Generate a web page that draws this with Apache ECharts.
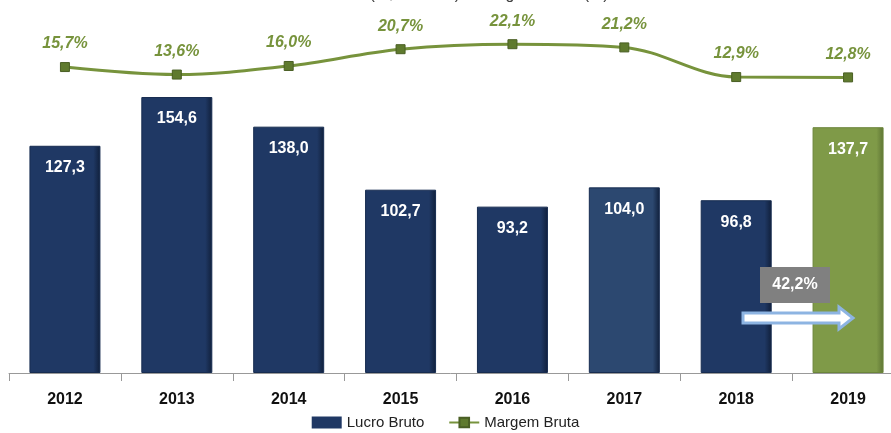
<!DOCTYPE html>
<html>
<head>
<meta charset="utf-8">
<script src="https://cdn.jsdelivr.net/npm/echarts@6/dist/echarts.min.js"></script>
<style>
  html, body { margin: 0; padding: 0; background: #fff; }
  #chart { width: 891px; height: 433px; }
</style>
</head>
<body>
<div id="chart"></div>
<script>
const years = ["2012", "2013", "2014", "2015", "2016", "2017", "2018", "2019"];
const lucroBruto = [127.3, 154.6, 138.0, 102.7, 93.2, 104.0, 96.8, 137.7];
const margemBruta = [15.7, 13.6, 16.0, 20.7, 22.1, 21.2, 12.9, 12.8];
const barColors = ["#1F3864", "#1F3864", "#1F3864", "#1F3864", "#1F3864", "#2C4870", "#1F3864", "#7F9A48"];

const fmt = (v, d) => v.toFixed(d).replace(".", ",");
const font = "'Liberation Sans', 'Noto Sans', sans-serif";

const chart = echarts.init(document.getElementById("chart"));

const barData = lucroBruto.map((v, i) => ({
  value: v,
  itemStyle: {
    color: new echarts.graphic.LinearGradient(0, 0, 1, 0, [
      { offset: 0, color: barColors[i] },
      { offset: 0.9, color: barColors[i] },
      { offset: 1, color: i === 7 ? "#5E7434" : "#101F3A" },
    ]),
    borderColor: i === 7 ? "#6B853A" : "#172C50",
    borderWidth: 1,
  },
}));

const option = {
  animation: false,
  title: {
    text: "Lucro Bruto (R$ Milhões) e Margem Bruta (%)",
    left: "center",
    top: -18,
    textStyle: { fontFamily: font, fontSize: 16, fontWeight: "normal", color: "#404040" },
  },
  // the plot runs past the right edge of the picture
  grid: { left: 9, right: -13, top: 16, bottom: 60, outerBoundsMode: "none" },
  legend: {
    bottom: -2,
    left: "center",
    itemWidth: 30,
    itemHeight: 12,
    itemGap: 24,
    textStyle: { fontFamily: font, fontSize: 15, color: "#222" },
    data: [
      { name: "Lucro Bruto", icon: "rect", itemStyle: { color: "#1F3864" } },
      { name: "Margem Bruta" },
    ],
  },
  xAxis: {
    type: "category",
    data: years,
    axisLine: { lineStyle: { color: "#999", width: 1 } },
    axisTick: { show: true, length: 8, lineStyle: { color: "#999" } },
    axisLabel: {
      margin: 19,
      fontFamily: font,
      fontSize: 16,
      fontWeight: "bold",
      color: "#111",
    },
  },
  yAxis: [
    { type: "value", min: 0, max: 200, show: false, splitLine: { show: false } },
    { type: "value", min: -70, max: 30, show: false, splitLine: { show: false } },
  ],
  series: [
    {
      name: "Lucro Bruto",
      type: "bar",
      barWidth: 71,
      data: barData,
      label: {
        show: true,
        position: "insideTop",
        distance: 14,
        color: "#fff",
        fontFamily: font,
        fontSize: 16,
        fontWeight: "bold",
        formatter: (p) => fmt(p.value, 1),
      },
    },
    {
      name: "Margem Bruta",
      type: "line",
      yAxisIndex: 1,
      data: margemBruta,
      smooth: 0.35,
      symbol: "rect",
      symbolSize: 9,
      lineStyle: { color: "#77933C", width: 3 },
      itemStyle: { color: "#5F7A2E", borderColor: "#4A5F24", borderWidth: 1 },
      label: {
        show: true,
        position: "top",
        distance: 10,
        color: "#77933C",
        fontFamily: font,
        fontSize: 16,
        fontWeight: "bold",
        fontStyle: "italic",
        formatter: (p) => fmt(p.value, 1) + "%",
      },
      z: 5,
    },
  ],
  graphic: [
    {
      type: "rect",
      shape: { x: 760, y: 267, width: 70, height: 36 },
      style: { fill: "#808080" },
      z: 10,
    },
    {
      type: "text",
      x: 795,
      y: 285,
      style: {
        text: "42,2%",
        fill: "#fff",
        font: "bold 16px " + font,
        align: "center",
        verticalAlign: "middle",
      },
      z: 11,
    },
    {
      type: "polygon",
      shape: {
        points: [[743, 313], [839, 313], [839, 307], [853, 318], [839, 329], [839, 323], [743, 323]],
      },
      style: { fill: "#fff", stroke: "#8DB4E2", lineWidth: 3 },
      z: 10,
    },
  ],
};

chart.setOption(option);
</script>
</body>
</html>
